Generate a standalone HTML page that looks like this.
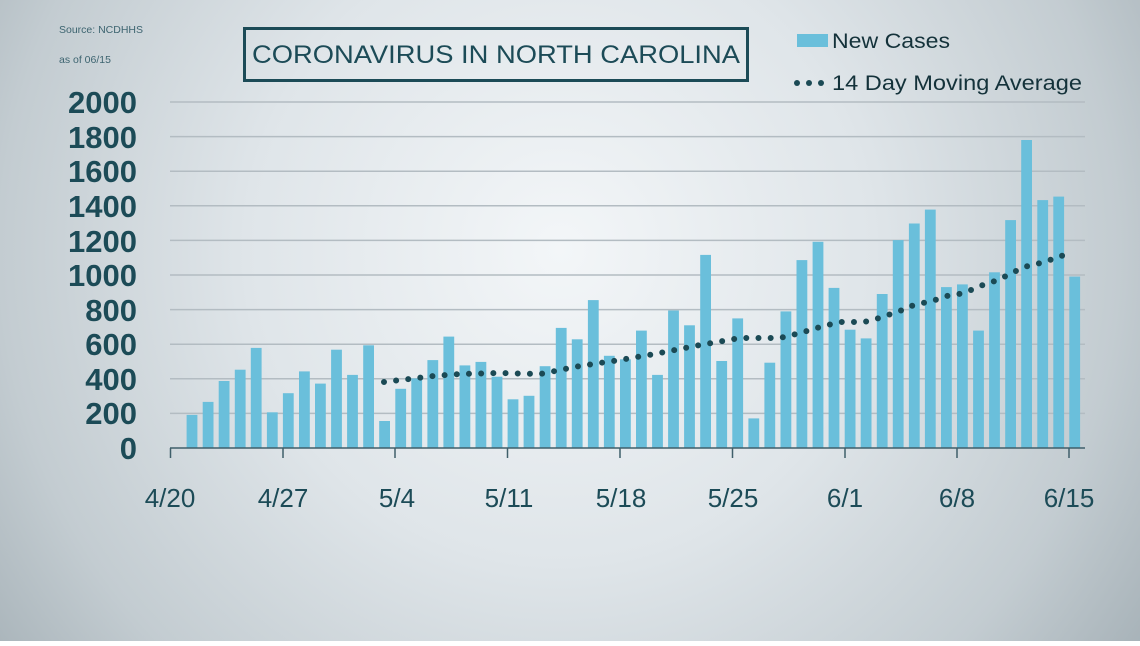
<!DOCTYPE html>
<html><head><meta charset="utf-8"><style>
html,body{margin:0;padding:0}
body{width:1140px;height:641px;overflow:hidden;font-family:"Liberation Sans",sans-serif}
</style></head><body>
<svg width="1140" height="641" viewBox="0 0 1140 641" xmlns="http://www.w3.org/2000/svg">
<defs>
<radialGradient id="bg" cx="560" cy="250" r="700" gradientUnits="userSpaceOnUse">
<stop offset="0" stop-color="#f3f6f8"/>
<stop offset="0.45" stop-color="#dfe5e9"/>
<stop offset="0.8" stop-color="#c3ccd1"/>
<stop offset="1" stop-color="#a8b3b9"/>
</radialGradient>
</defs>
<rect width="1140" height="641" fill="url(#bg)"/>
<g stroke="#b3bcc2" stroke-width="1.5">
<line x1="170" x2="1085" y1="102" y2="102"/><line x1="170" x2="1085" y1="136.6" y2="136.6"/>
<line x1="170" x2="1085" y1="171.2" y2="171.2"/><line x1="170" x2="1085" y1="205.8" y2="205.8"/>
<line x1="170" x2="1085" y1="240.4" y2="240.4"/><line x1="170" x2="1085" y1="275" y2="275"/>
<line x1="170" x2="1085" y1="309.6" y2="309.6"/><line x1="170" x2="1085" y1="344.2" y2="344.2"/>
<line x1="170" x2="1085" y1="378.8" y2="378.8"/><line x1="170" x2="1085" y1="413.4" y2="413.4"/>
</g>
<g id="bars" fill="#6abfdb"></g>
<g stroke="#3f5f6a" stroke-width="1.5">
<line x1="170" x2="1085" y1="448" y2="448"/>
<line x1="170.5" x2="170.5" y1="448" y2="458"/><line x1="283" x2="283" y1="448" y2="458"/>
<line x1="395" x2="395" y1="448" y2="458"/><line x1="507.5" x2="507.5" y1="448" y2="458"/>
<line x1="620" x2="620" y1="448" y2="458"/><line x1="732.5" x2="732.5" y1="448" y2="458"/>
<line x1="845" x2="845" y1="448" y2="458"/><line x1="957" x2="957" y1="448" y2="458"/>
<line x1="1069" x2="1069" y1="448" y2="458"/>
</g>
<polyline fill="none" stroke="#1b4a55" stroke-width="6" stroke-linecap="round" stroke-dasharray="0 12.2"
points="384,382 409,379 433,376 460,374 500,373 540,374 560,370 580,366 620,360 660,353 700,345 740,338 780,338 800,333 820,327 840,322 864,322 876,319 888,315 900,311 911,306 923,303 935,300 947,296 959,294 971,290 983,285 995,281 1006,276 1018,270 1030,265 1041,263 1053,259 1064,255"/>
<g fill="#1c4b57" font-size="31" font-weight="bold" text-anchor="end">
<text x="137" y="113">2000</text><text x="137" y="148">1800</text><text x="137" y="182">1600</text>
<text x="137" y="217">1400</text><text x="137" y="252">1200</text><text x="137" y="286">1000</text>
<text x="137" y="321">800</text><text x="137" y="355">600</text><text x="137" y="390">400</text>
<text x="137" y="424">200</text><text x="137" y="459">0</text>
</g>
<g fill="#1c4b57" font-size="26" text-anchor="middle">
<text x="170" y="507">4/20</text><text x="283" y="507">4/27</text><text x="397" y="507">5/4</text>
<text x="509" y="507">5/11</text><text x="621" y="507">5/18</text><text x="733" y="507">5/25</text>
<text x="845" y="507">6/1</text><text x="957" y="507">6/8</text><text x="1069" y="507">6/15</text>
</g>
<g fill="#3d6470" font-size="10.5">
<text x="59" y="33">Source:  NCDHHS</text><text x="59" y="63">as of 06/15</text>
</g>
<rect x="244.5" y="28.5" width="503" height="52" fill="none" stroke="#1c4b57" stroke-width="3"/>
<text x="496" y="63" text-anchor="middle" fill="#1c4b57" font-size="25" textLength="488" lengthAdjust="spacingAndGlyphs">CORONAVIRUS IN NORTH CAROLINA</text>
<rect x="797" y="34" width="31" height="13" fill="#6abfdb"/>
<text x="832" y="48" fill="#14323a" font-size="21" textLength="118" lengthAdjust="spacingAndGlyphs">New Cases</text>
<g fill="#1b4a55"><circle cx="797" cy="83" r="3"/><circle cx="809" cy="83" r="3"/><circle cx="821" cy="83" r="3"/></g>
<text x="832" y="90" fill="#14323a" font-size="21" textLength="250" lengthAdjust="spacingAndGlyphs">14 Day Moving Average</text>
</svg>
<script>
var v=[190,265,385,450,575,205,315,440,370,565,420,590,155,340,400,505,640,475,495,410,280,300,470,690,625,850,530,510,675,420,790,705,1110,500,745,170,490,785,1080,1185,920,680,630,885,1195,1290,1370,925,940,675,1010,1310,1770,1425,1445,985];
var g=document.getElementById('bars'),s='';
for(var i=0;i<v.length;i++){var cx=192+i*16.05,h=v[i]*0.174;
s+='<rect x="'+(cx-5.4).toFixed(1)+'" y="'+(448-h).toFixed(1)+'" width="10.8" height="'+h.toFixed(1)+'"/>';}
g.innerHTML=s;
</script>
</body></html>
